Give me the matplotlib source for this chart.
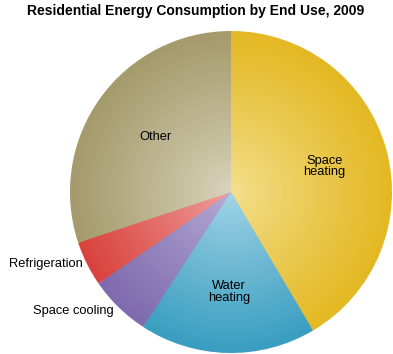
import numpy as np
import matplotlib.pyplot as plt
from matplotlib.colors import to_rgb

plt.rcParams['font.family'] = ['Liberation Sans', 'DejaVu Sans']

labels = ['Space\nheating', 'Water\nheating', 'Space cooling', 'Refrigeration', 'Other']
shares = [41.5, 17.7, 6.2, 4.5, 30.1]
edge_colors = ['#E3B823', '#3A9EC0', '#7E6AAE', '#D9423C', '#A59A6B']
center_colors = ['#F4E08F', '#A6D6E8', '#B6ADD6', '#F0A3A0', '#DAD6BF']

fig = plt.figure(figsize=(3.93, 3.54), dpi=100)
ax = fig.add_axes([70 / 393, 1 / 354, 322 / 393, 322 / 354])

# fake radial gradient: stacked pies, big to small
steps = 40
for i in range(steps):
    r = 1 - i / steps
    t = r ** 0.9
    cols = []
    for e, c in zip(edge_colors, center_colors):
        e = np.array(to_rgb(e))
        c = np.array(to_rgb(c))
        cols.append(c + (e - c) * t)
    ax.pie(shares, colors=cols, startangle=90, counterclock=False, radius=r,
           wedgeprops={'linewidth': 0, 'antialiased': True})

# labels inside big slices
angles = 90 - (np.cumsum(shares) - np.array(shares) / 2) * 3.6
dist = {0: 0.6, 1: 0.62, 4: 0.58}
for k in [0, 1, 4]:
    a = np.deg2rad(angles[k])
    d = dist[k]
    ax.text(d * np.cos(a), d * np.sin(a), labels[k], ha='center', va='center',
            fontsize=9.3, linespacing=0.95)

ax.text(-0.92, -0.45, labels[3], ha='right', va='center', fontsize=9.3)
ax.text(-0.73, -0.74, labels[2], ha='right', va='center', fontsize=9.3)

ax.set_xlim(-1, 1)
ax.set_ylim(-1, 1)
ax.set_aspect('equal')
ax.axis('off')

fig.text(196 / 393, 1 - 11 / 354, 'Residential Energy Consumption by End Use, 2009',
         ha='center', va='center', fontsize=10, fontweight='bold')

fig.savefig('out.png', dpi=100)
